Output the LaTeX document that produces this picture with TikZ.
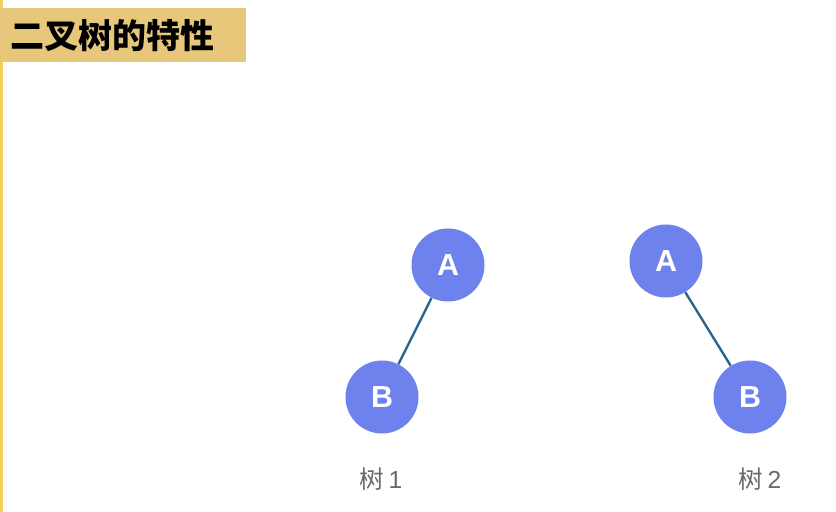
\documentclass[tikz,border=0pt]{standalone}
\usepackage{fontspec}
\newfontfamily\cjk{Noto Sans CJK SC}
\newfontfamily\latin{Liberation Sans}
\usetikzlibrary{positioning}
\definecolor{TitleGold}{RGB}{231,200,122}
\definecolor{EdgeYellow}{RGB}{240,208,90}
\definecolor{NodeBlue}{RGB}{110,130,238}
\definecolor{EdgeTeal}{RGB}{40,100,140}
\definecolor{LabelGray}{RGB}{105,105,105}
\tikzset{
  tree node/.style={
    circle,
    fill=NodeBlue,
    minimum size=73*0.03cm,
    inner sep=0pt,
    text=white,
    font=\latin\bfseries\fontsize{26}{26}\selectfont,
  },
  tree edge/.style={EdgeTeal,line width=2pt},
  tree label/.style={
    text=LabelGray,
    font=\cjk\fontsize{21}{21}\selectfont,
  },
  title bar/.style={
    fill=TitleGold,
    anchor=north west,
    minimum width=246*0.03cm,
    minimum height=54*0.03cm,
    inner xsep=10*0.03cm,
    inner ysep=0pt,
    text width=226*0.03cm,
    align=left,
    font=\cjk\bfseries\fontsize{29}{29}\selectfont,
  },
}

\begin{document}
\begin{tikzpicture}[x=0.03cm,y=-0.03cm]

\useasboundingbox[fill=white] (0,0) rectangle (836,512);

% Title bar and side rule.
\fill[EdgeYellow] (0,0) rectangle (3,512);
\node[title bar] (title) at (0,8) {二叉树的特性};

% Tree 1: B is the left child.
\node[tree node] (a1) at (448,265) {A};
\node[tree node] (b1) at (382,397) {B};
\node[tree label] (t1) at (381,479) {树\,{\latin 1}};

% Tree 2: B is the right child.
\node[tree node] (a2) at (666,261) {A};
\node[tree node] (b2) at (750,397) {B};
\node[tree label] (t2) at (760,479) {树\,{\latin 2}};

\foreach \a/\b in {a1/b1,a2/b2}
  \draw[tree edge] (\a) -- (\b);

\end{tikzpicture}
\end{document}
